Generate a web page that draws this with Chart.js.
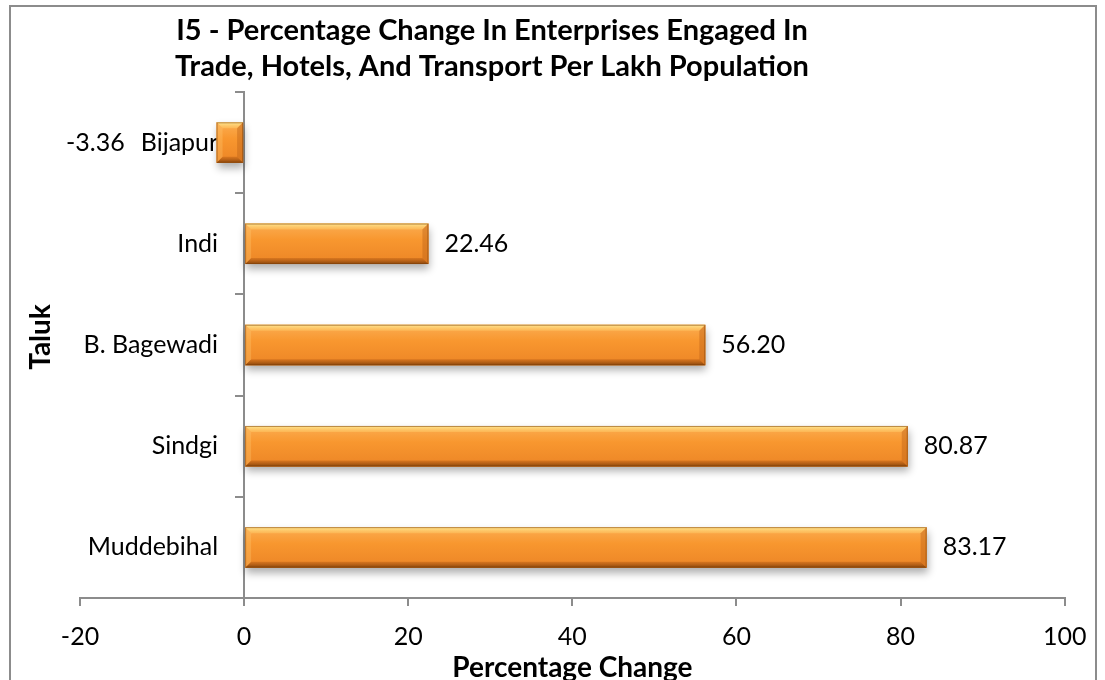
<!DOCTYPE html>
<html>
<head>
<meta charset="utf-8">
<script src="https://cdn.jsdelivr.net/npm/chart.js@4"></script>
<style>
  html, body { margin: 0; padding: 0; background: #fff; }
  #wrap { width: 1105px; height: 680px; }
</style>
</head>
<body>
<div id="wrap"><canvas id="chart" width="1105" height="680"></canvas></div>
<script>
// chart data
const taluks = ['Bijapur', 'Indi', 'B. Bagewadi', 'Sindgi', 'Muddebihal'];
const changes = [-3.36, 22.46, 56.20, 80.87, 83.17];
const xMin = -20;
const xMax = 100;
const xStep = 20;
const titleLines = ['I5 - Percentage Change In Enterprises Engaged In',
                    'Trade, Hotels, And Transport Per Lakh Population'];
const xTitle = 'Percentage Change';
const yTitle = 'Taluk';

const FONT = 'Lato, "Open Sans", sans-serif';
const AXIS_GRAY = '#8c8c8c';
const TICK_LEN = 8;
const LABEL_PAD = 18;

// frame, chart title, axis titles and the category labels beside the zero line
const decor = {
  id: 'decor',
  beforeDraw(chart) {
    const ctx = chart.ctx;
    const area = chart.chartArea;
    ctx.save();
    ctx.fillStyle = '#fff';
    ctx.fillRect(0, 0, chart.width, chart.height);
    ctx.strokeStyle = AXIS_GRAY;
    ctx.lineWidth = 2;
    ctx.strokeRect(10, 6, 1086, 700);

    ctx.fillStyle = '#000';
    ctx.textAlign = 'center';
    ctx.textBaseline = 'alphabetic';
    ctx.font = 'bold 29px ' + FONT;
    ctx.fillText(titleLines[0], 492, 40);
    ctx.fillText(titleLines[1], 492, 76);

    ctx.textBaseline = 'middle';
    ctx.font = 'bold 28px ' + FONT;
    ctx.fillText(xTitle, (area.left + area.right) / 2, 668);

    ctx.save();
    ctx.translate(41, 337);
    ctx.rotate(-Math.PI / 2);
    ctx.fillText(yTitle, 0, 0);
    ctx.restore();

    // category labels, right aligned left of the y axis at x = 0
    const ys = chart.scales.y;
    const zeroX = chart.scales.x.getPixelForValue(0);
    ctx.font = '25px ' + FONT;
    ctx.textAlign = 'right';
    taluks.forEach((name, i) => {
      ctx.fillText(name, zeroX - TICK_LEN - LABEL_PAD, ys.getPixelForValue(i));
    });
    ctx.restore();
  }
};

// shadow under bars + bevel shading on top of them
const bevel = {
  id: 'bevel',
  beforeDatasetDraw(chart) {
    const ctx = chart.ctx;
    ctx.save();
    ctx.shadowColor = 'rgba(0,0,0,0.32)';
    ctx.shadowBlur = 8;
    ctx.shadowOffsetX = 1;
    ctx.shadowOffsetY = 5;
  },
  afterDatasetDraw(chart, args) {
    const ctx = chart.ctx;
    ctx.restore();
    ctx.save();
    args.meta.data.forEach(bar => {
      const p = bar.getProps(['x', 'y', 'base', 'height'], true);
      const l = Math.min(p.x, p.base), r = Math.max(p.x, p.base);
      const t = p.y - p.height / 2, b = p.y + p.height / 2;
      const e = Math.min(6, (r - l) / 2);

      const g = ctx.createLinearGradient(0, t, 0, b);
      g.addColorStop(0, '#fbad52');
      g.addColorStop(0.4, '#f8972f');
      g.addColorStop(1, '#ec8526');
      ctx.fillStyle = g;
      ctx.fillRect(l, t, r - l, b - t);

      // top facet
      const gt = ctx.createLinearGradient(0, t, 0, t + e);
      gt.addColorStop(0, 'rgba(255,236,150,0.9)');
      gt.addColorStop(1, 'rgba(255,200,100,0.5)');
      ctx.fillStyle = gt;
      ctx.beginPath();
      ctx.moveTo(l, t); ctx.lineTo(r, t); ctx.lineTo(r - e, t + e); ctx.lineTo(l + e, t + e);
      ctx.fill();
      // bottom facet
      const gb = ctx.createLinearGradient(0, b - e, 0, b);
      gb.addColorStop(0, 'rgba(200,105,25,0.6)');
      gb.addColorStop(1, 'rgba(130,65,10,0.95)');
      ctx.fillStyle = gb;
      ctx.beginPath();
      ctx.moveTo(l, b); ctx.lineTo(r, b); ctx.lineTo(r - e, b - e); ctx.lineTo(l + e, b - e);
      ctx.fill();
      // left facet
      ctx.fillStyle = 'rgba(255,205,120,0.3)';
      ctx.beginPath();
      ctx.moveTo(l, t); ctx.lineTo(l + e, t + e); ctx.lineTo(l + e, b - e); ctx.lineTo(l, b);
      ctx.fill();
      // right facet
      ctx.fillStyle = 'rgba(190,100,25,0.45)';
      ctx.beginPath();
      ctx.moveTo(r, t); ctx.lineTo(r - e, t + e); ctx.lineTo(r - e, b - e); ctx.lineTo(r, b);
      ctx.fill();

      ctx.strokeStyle = 'rgba(130,65,10,0.55)';
      ctx.lineWidth = 1;
      ctx.strokeRect(l + 0.5, t + 0.5, r - l - 1, b - t - 1);
    });
    ctx.restore();
  }
};

// value labels next to the bar ends
const valueLabels = {
  id: 'valueLabels',
  afterDatasetsDraw(chart) {
    const ctx = chart.ctx;
    const meta = chart.getDatasetMeta(0);
    const zeroX = chart.scales.x.getPixelForValue(0);
    ctx.save();
    ctx.font = '25px ' + FONT;
    ctx.fillStyle = '#000';
    ctx.textBaseline = 'middle';
    meta.data.forEach((bar, i) => {
      const v = changes[i];
      const txt = v.toFixed(2);
      if (v >= 0) {
        ctx.textAlign = 'left';
        ctx.fillText(txt, bar.x + 16, bar.y);
      } else {
        // Excel pushed the negative label out past the category name
        const w = ctx.measureText(taluks[i]).width;
        ctx.textAlign = 'right';
        ctx.fillText(txt, zeroX - TICK_LEN - LABEL_PAD - w - 16, bar.y);
      }
    });
    ctx.restore();
  }
};

const ctx = document.getElementById('chart').getContext('2d');

new Chart(ctx, {
  type: 'bar',
  data: {
    labels: taluks,
    datasets: [{
      label: 'Percentage Change',
      data: changes,
      backgroundColor: '#f8972f',
      borderWidth: 0,
      barPercentage: 0.4,
      categoryPercentage: 1
    }]
  },
  options: {
    indexAxis: 'y',
    responsive: false,
    animation: false,
    layout: {
      padding: { left: 80, right: 39, top: 92, bottom: 12 }
    },
    plugins: {
      legend: { display: false },
      tooltip: { enabled: false },
      title: { display: false }
    },
    scales: {
      x: {
        min: xMin,
        max: xMax,
        ticks: {
          stepSize: xStep,
          padding: 18.5,
          color: '#000',
          font: { family: FONT, size: 25, lineHeight: 1 }
        },
        grid: {
          drawOnChartArea: false,
          drawTicks: true,
          tickLength: TICK_LEN,
          color: AXIS_GRAY,
          lineWidth: 2
        },
        border: { display: true, color: AXIS_GRAY, width: 2 },
        title: { display: false }
      },
      y: {
        position: { x: 0 },
        offset: true,
        ticks: { display: false },
        grid: {
          offset: true,
          drawOnChartArea: false,
          drawTicks: true,
          tickLength: TICK_LEN,
          color: AXIS_GRAY,
          lineWidth: 2
        },
        border: { display: true, color: AXIS_GRAY, width: 2 }
      }
    }
  },
  plugins: [decor, bevel, valueLabels]
});
</script>
</body>
</html>
